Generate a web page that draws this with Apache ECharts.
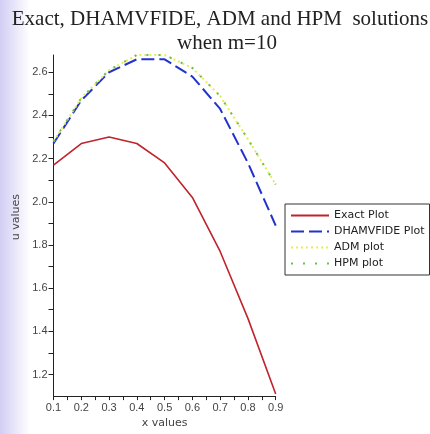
<!DOCTYPE html>
<html><head><meta charset="utf-8">
<script src="https://cdn.jsdelivr.net/npm/echarts@6/dist/echarts.min.js"></script>
<style>html,body{margin:0;padding:0;background:#fff}#c{width:430px;height:434px}</style>
</head><body><div id="c"></div>
<script>
var xValues = [0.1, 0.2, 0.3, 0.4, 0.5, 0.6, 0.7, 0.8, 0.9];
var exactPlot = [2.17, 2.27, 2.30, 2.27, 2.18, 2.02, 1.77, 1.46, 1.11];
var dhamvfidePlot = [2.27, 2.47, 2.60, 2.66, 2.66, 2.58, 2.43, 2.18, 1.89];
var admPlot = [2.28, 2.48, 2.61, 2.68, 2.68, 2.62, 2.49, 2.29, 2.08];
var hpmPlot = [2.28, 2.48, 2.61, 2.68, 2.68, 2.62, 2.49, 2.29, 2.08];
var xTickLabels = [0.1, 0.2, 0.3, 0.4, 0.5, 0.6, 0.7, 0.8, 0.9];
var xTicks = [0.1, 0.15, 0.2, 0.25, 0.3, 0.35, 0.4, 0.45, 0.5, 0.55, 0.6, 0.65, 0.7, 0.75, 0.8, 0.85, 0.9];
var yTickLabels = [1.2, 1.4, 1.6, 1.8, 2.0, 2.2, 2.4, 2.6];
var yTicks = [1.2, 1.3, 1.4, 1.5, 1.6, 1.7, 1.8, 1.9, 2.0, 2.1, 2.2, 2.3, 2.4, 2.5, 2.6];

function pairs(v) { return xValues.map(function (x, i) { return [x, v[i]]; }); }

var chart = echarts.init(document.getElementById('c'), null, { renderer: 'canvas' });
var labelStyle = { fontFamily: 'Liberation Sans', fontSize: 11, color: '#444' };
chart.setOption({
  animation: false,
  backgroundColor: '#fff',
  graphic: [
    { type: 'rect', z: -10, silent: true, shape: { x: 0, y: 0, width: 30, height: 434 },
      style: { fill: { type: 'linear', x: 0, y: 0, x2: 1, y2: 0,
        colorStops: [{ offset: 0, color: 'rgba(205,200,242,0.9)' }, { offset: 1, color: 'rgba(205,200,242,0)' }] } } },
    { type: 'text', left: 11, top: 194, rotation: Math.PI / 2,
      style: { text: 'u values', font: '11px "DejaVu Sans"', fill: '#444' } },
    { type: 'text', x: 220, y: 19, style: { text: 'Exact, DHAMVFIDE, ADM and HPM  solutions',
      font: '21px "Liberation Serif"', fill: '#222', textAlign: 'center', textVerticalAlign: 'middle' } },
    { type: 'text', x: 227, y: 43, style: { text: 'when m=10',
      font: '21px "Liberation Serif"', fill: '#222', textAlign: 'center', textVerticalAlign: 'middle' } }
  ],
  grid: { left: 53.5, right: 154.3, top: 55, bottom: 34, containLabel: false },
  legend: {
    orient: 'vertical', left: 285, top: 204, padding: [6, 5, 6, 5], itemGap: 5,
    itemWidth: 38, itemHeight: 12, borderColor: '#333', borderWidth: 1,
    itemStyle: { opacity: 0 },
    textStyle: { fontFamily: 'DejaVu Sans', fontSize: 11, color: '#222' },
    data: ['Exact Plot', 'DHAMVFIDE Plot', 'ADM plot', 'HPM plot']
  },
  xAxis: {
    type: 'value', min: 0.1, max: 0.9,
    name: 'x values', nameLocation: 'middle', nameGap: 20,
    nameTextStyle: { fontFamily: 'DejaVu Sans', fontSize: 11, color: '#444' },
    axisLine: { onZero: false, lineStyle: { color: '#222', width: 1 } },
    axisTick: { show: true, length: 4, customValues: xTicks, lineStyle: { color: '#222' } },
    axisLabel: Object.assign({ customValues: xTickLabels, margin: 6, formatter: function (v) { return v.toFixed(1); } }, labelStyle),
    splitLine: { show: false }
  },
  yAxis: {
    type: 'value', min: 1.1, max: 2.68,
    axisLine: { show: true, onZero: false, lineStyle: { color: '#222', width: 1 } },
    axisTick: { show: true, length: 5, customValues: yTicks, lineStyle: { color: '#222' } },
    axisLabel: Object.assign({ customValues: yTickLabels, margin: 6, formatter: function (v) { return v.toFixed(1); } }, labelStyle),
    splitLine: { show: false }
  },
  series: [
    { name: 'Exact Plot', type: 'line', data: pairs(exactPlot), symbol: 'none', color: '#c0232b',
      lineStyle: { width: 1.6, color: '#c0232b' } },
    { name: 'DHAMVFIDE Plot', type: 'line', data: pairs(dhamvfidePlot), symbol: 'none', color: '#2233cc',
      lineStyle: { width: 2, color: '#2233cc', type: [13, 5] } },
    { name: 'ADM plot', type: 'line', data: pairs(admPlot), symbol: 'none', color: '#e6ee50',
      lineStyle: { width: 2, color: '#e6ee50', type: [2, 3] } },
    { name: 'HPM plot', type: 'line', data: pairs(hpmPlot), symbol: 'none', color: '#6cbf55',
      lineStyle: { width: 2, color: '#6cbf55', type: [2, 10] } }
  ]
});
</script></body></html>
